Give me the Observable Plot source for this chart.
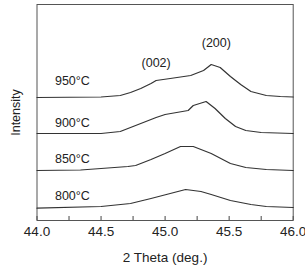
<!DOCTYPE html>
<html><head><meta charset="utf-8">
<script src="https://cdn.jsdelivr.net/npm/d3@7"></script>
<script src="https://cdn.jsdelivr.net/npm/@observablehq/plot@0.6"></script>
<style>body{margin:0;background:#fff}</style>
</head><body><div id="c"></div>
<script>
const series = ["800°C","850°C","900°C","950°C"];
const theta800 = [44.00,44.50,44.73,44.89,45.04,45.16,45.28,45.36,45.51,45.67,45.79,46.00];
const int800   = [12.3,14,17,22,27,31,29,26,20,16,14,13];
const theta850 = [44.00,44.34,44.50,44.71,44.77,44.89,45.00,45.12,45.22,45.28,45.36,45.51,45.63,45.79,46.00];
const int850   = [50,50.5,52,54,55,61,67,74,74,71,67,57,53,51,50];
const theta900 = [44.00,44.50,44.65,44.73,44.81,44.93,45.00,45.18,45.22,45.32,45.39,45.47,45.55,45.63,45.75,46.00];
const int900   = [87,87,89,93,97,103,106,110,115,119,112,102,94,90,88,87];
const theta950 = [44.00,44.50,44.65,44.73,44.81,44.89,44.93,45.04,45.20,45.30,45.36,45.43,45.51,45.59,45.67,45.79,45.90,46.00];
const int950   = [123,123.5,125,128,132,137,140,142,145,150,156,153,144,136,129,125,124,123.5];
const labelTheta = [44.14,44.14,44.14,44.14];
const labelInt = [25,62,98,140];
const peakNames = ["(002)","(200)"];
const peakTheta = [44.93,45.40];
const peakInt = [158,178];
const majorTicks = [44.0,44.5,45.0,45.5,46.0];
const minorTicks = [44.0,44.25,44.5,44.75,45.0,45.25,45.5,45.75,46.0];

const curves = [[theta800,int800],[theta850,int850],[theta900,int900],[theta950,int950]];
const rows = curves.flatMap(([t,v],i)=>t.map((x,j)=>({s:series[i],x,y:v[j]})));
const labels = series.map((s,i)=>({s,x:labelTheta[i],y:labelInt[i]}));
const peaks = peakNames.map((n,i)=>({n,x:peakTheta[i],y:peakInt[i]}));

const chart = Plot.plot({
  width:305, height:265,
  marginLeft:36.5, marginRight:12.3, marginTop:4, marginBottom:45,
  style:{fontFamily:"Liberation Sans, Arial, sans-serif", fontSize:"12px", color:"#222", background:"#fff"},
  x:{domain:[44,46]},
  y:{domain:[0,216]},
  marks:[
    Plot.axisX({ticks:majorTicks, tickFormat:d=>d.toFixed(1), tickSize:0, tickPadding:6, fontSize:13.5, label:"2 Theta (deg.)", labelAnchor:"center", labelArrow:false, labelOffset:41}),
    Plot.axisX({ticks:minorTicks, tickSize:-4, text:null, label:null, stroke:"#444"}),
    Plot.axisY({ticks:[], tickSize:0, label:"Intensity", labelAnchor:"center", labelArrow:false, labelOffset:26, fontSize:12.5}),
    Plot.frame({stroke:"#555"}),
    Plot.line(rows,{x:"x",y:"y",z:"s",stroke:"#333",strokeWidth:1.2,curve:"linear"}),
    Plot.text(labels,{x:"x",y:"y",text:"s",textAnchor:"start",fontSize:12.5,fill:"#222"}),
    Plot.text(peaks,{x:"x",y:"y",text:"n",fontSize:12.5,fill:"#222"})
  ]
});
document.getElementById("c").append(chart);
</script></body></html>
